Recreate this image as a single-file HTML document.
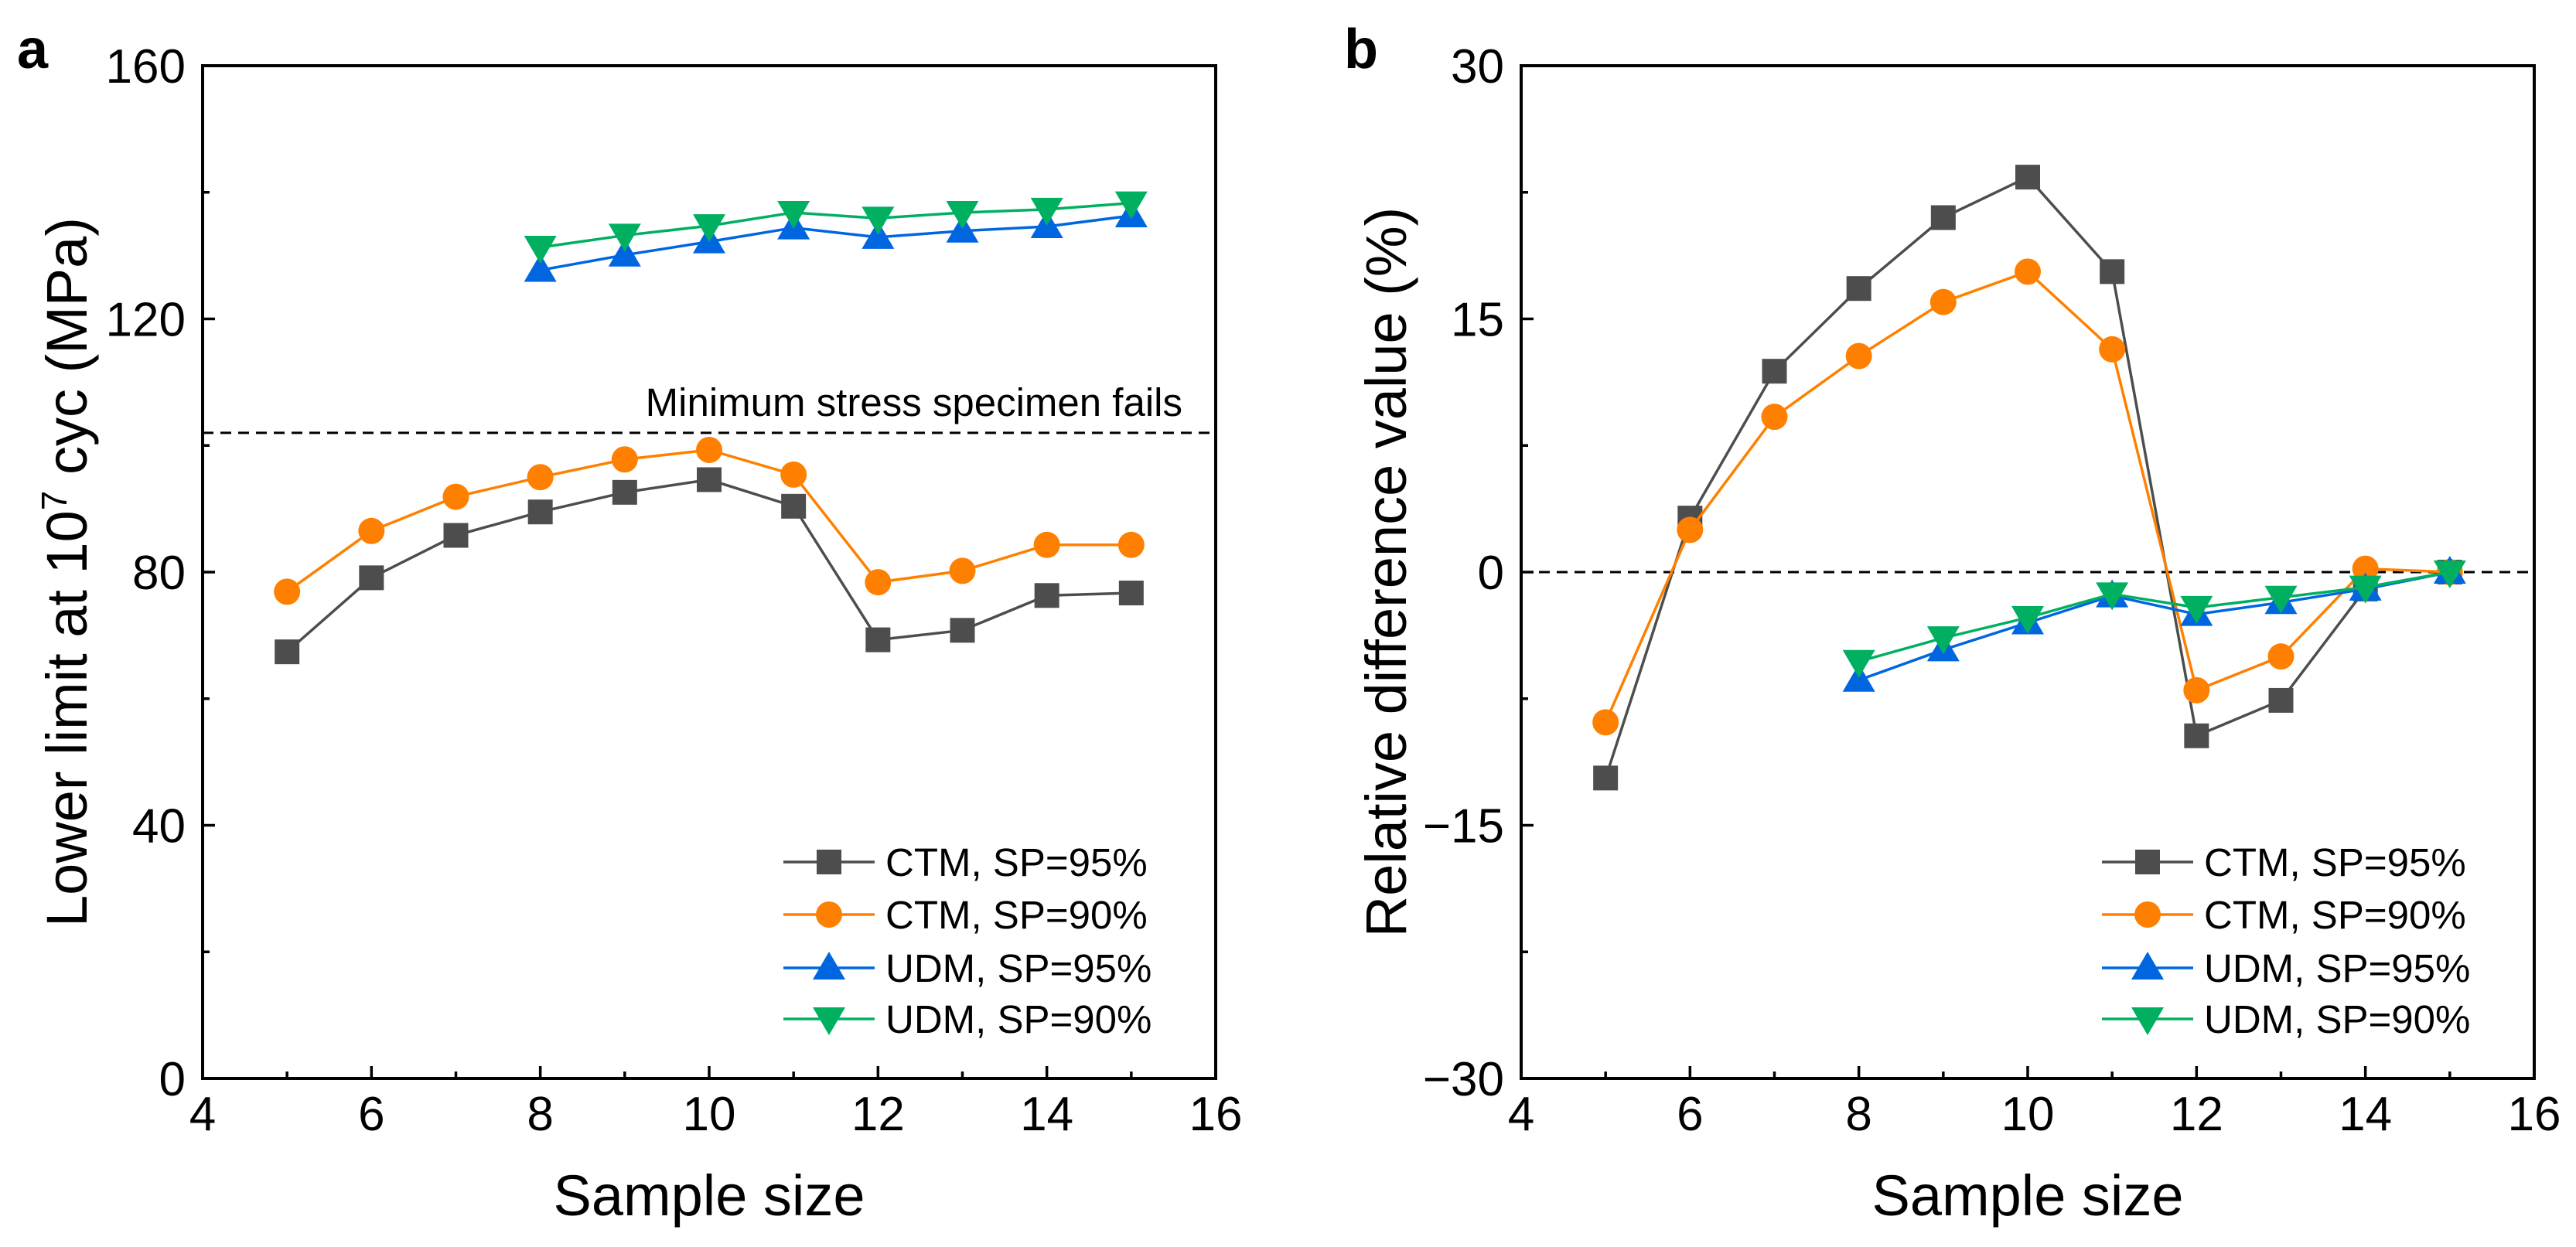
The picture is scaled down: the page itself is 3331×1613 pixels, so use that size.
<!DOCTYPE html>
<html><head><meta charset="utf-8"><style>
html,body{margin:0;padding:0;background:#fff;}
svg{display:block;font-family:"Liberation Sans",Arial,sans-serif;}
</style></head><body>
<svg id="fig" width="3331" height="1613" viewBox="0 0 3331 1613" xmlns="http://www.w3.org/2000/svg">
<g id="pa"></g>
<g id="pb"></g>
</svg>
<script>
const xs = [5,6,7,8,9,10,11,12,13,14,15];
const xsU = [8,9,10,11,12,13,14,15];
const a_ctm95 = [67.4,79.1,85.8,89.5,92.6,94.6,90.4,69.3,70.8,76.3,76.7];
const a_ctm90 = [76.9,86.5,91.9,95.0,97.8,99.3,95.4,78.4,80.2,84.3,84.3];
const a_udm95 = [127.7,130.1,132.2,134.4,132.9,133.9,134.6,136.3];
const a_udm90 = [131.3,133.2,134.7,136.8,135.9,136.8,137.3,138.3];
const a_refLine = 102.0;
const b_ctm95 = [-12.2,3.2,11.9,16.8,21.0,23.4,17.8,-9.7,-7.6,-1.0,0];
const b_ctm90 = [-8.9,2.5,9.2,12.8,16.0,17.8,13.2,-7.0,-5.0,0.2,0];
const b_udm95 = [-6.4,-4.6,-3.0,-1.4,-2.5,-1.8,-1.0,0];
const b_udm90 = [-5.3,-3.9,-2.7,-1.3,-2.1,-1.5,-0.9,0];
const b_refLine = 0;
const xTicks = [4,6,8,10,12,14,16];
const aYTicks = [0,40,80,120,160];
const bYTicks = [-30,-15,0,15,30];
const aYLabels = ["0","40","80","120","160"];
const bYLabels = ["\u221230","\u221215","0","15","30"];
const legendLabels = ["CTM, SP=95%","CTM, SP=90%","UDM, SP=95%","UDM, SP=90%"];

const NS="http://www.w3.org/2000/svg";
const COLORS=["#4d4d4d","#ff8000","#0066e0","#00b060"];
const SHAPES=["square","circle","up","down"];
function mk(parent,tag,attrs,text){const e=document.createElementNS(NS,tag);for(const k in attrs)e.setAttribute(k,attrs[k]);if(text!==undefined)e.textContent=text;parent.appendChild(e);return e;}
function marker(g,shape,cx,cy,color){
  let e;
  if(shape==="square") e=mk(g,"rect",{x:cx-16,y:cy-16,width:32,height:32,fill:color});
  else if(shape==="circle") e=mk(g,"circle",{cx:cx,cy:cy,r:17,fill:color});
  else if(shape==="up") e=mk(g,"polygon",{points:`${cx},${cy-21} ${cx-21},${cy+15} ${cx+21},${cy+15}`,fill:color});
  else e=mk(g,"polygon",{points:`${cx},${cy+21} ${cx-21},${cy-15} ${cx+21},${cy-15}`,fill:color});
  return e;
}
function panel(gid,L,ymin,ymax,yTicks,yLabels,series,ref,letter,ytitle,letterX,ytitleX,legX,note){
  const g=document.getElementById(gid);
  const T=85,B=1395,R=L+1310;
  const X=v=>L+(v-4)/12*(R-L);
  const Y=v=>B-(v-ymin)/(ymax-ymin)*(B-T);
  // ref line
  const rl=mk(g,"line",{x1:L,x2:R,y1:Y(ref),y2:Y(ref),stroke:"#000","stroke-width":3,"stroke-dasharray":"14,9"});
  
  
  if(note){const t=mk(g,"text",{x:R-43,y:Y(ref)-22,"text-anchor":"end","font-size":51},note);
    
    }
  // series
  series.forEach((s,i)=>{
    const sg=mk(g,"g",{});
    
    
    const pts=s.x.map((xv,j)=>X(xv)+","+Y(s.y[j])).join(" ");
    mk(sg,"polyline",{points:pts,fill:"none",stroke:COLORS[i],"stroke-width":3.5});
    s.x.forEach((xv,j)=>{const m=marker(sg,SHAPES[i],X(xv),Y(s.y[j]),COLORS[i]);
      
      });
  });
  // frame
  const fr=mk(g,"rect",{x:L,y:T,width:R-L,height:B-T,fill:"none",stroke:"#000","stroke-width":4});
  
  
  // x ticks
  for(let v=4;v<=16;v++){
    const major=v%2===0;
    mk(g,"line",{x1:X(v),x2:X(v),y1:B,y2:B-(major?16:9),stroke:"#000","stroke-width":3.5});
  }
  xTicks.forEach(v=>{const t=mk(g,"text",{x:X(v),y:1462,"text-anchor":"middle","font-size":62},String(v));
    
    });
  yTicks.forEach((v,i)=>{
    mk(g,"line",{x1:L,x2:L+16,y1:Y(v),y2:Y(v),stroke:"#000","stroke-width":3.5});
    const t=mk(g,"text",{x:L-22,y:Y(v)+22,"text-anchor":"end","font-size":62},yLabels[i]);
    
    
  });
  for(let k=0;k<yTicks.length-1;k++){const m=(yTicks[k]+yTicks[k+1])/2;
    mk(g,"line",{x1:L,x2:L+9,y1:Y(m),y2:Y(m),stroke:"#000","stroke-width":3.5});}
  const xt=mk(g,"text",{x:(L+R)/2,y:1572,"text-anchor":"middle","font-size":74},"Sample size");
  
  
  const yt=mk(g,"text",{x:ytitleX,y:(T+B)/2,"text-anchor":"middle","font-size":74,transform:`rotate(-90 ${ytitleX} ${(T+B)/2})`});
  yt.innerHTML=ytitle;
  
  
  const lt=mk(g,"text",{x:letterX,y:88,"font-size":72,"font-weight":"bold"},letter);
  
  
  // legend
  const rows=[1115,1183,1252,1318];
  const lg=mk(g,"g",{});
  
  
  legendLabels.forEach((lab,i)=>{
    const e=mk(lg,"g",{});
    
    
    mk(e,"line",{x1:legX,x2:legX+118,y1:rows[i],y2:rows[i],stroke:COLORS[i],"stroke-width":3.5});
    marker(e,SHAPES[i],legX+59,rows[i],COLORS[i]);
    mk(e,"text",{x:legX+132,y:rows[i]+18,"font-size":51},lab);
  });
}
panel("pa",262,0,160,aYTicks,aYLabels,[
  {x:xs,y:a_ctm95},{x:xs,y:a_ctm90},{x:xsU,y:a_udm95},{x:xsU,y:a_udm90}],
  a_refLine,"a",'Lower limit at 10<tspan baseline-shift="super" font-size="46">7</tspan> cyc (MPa)',22,112,1013,"Minimum stress specimen fails");
panel("pb",1967,-30,30,bYTicks,bYLabels,[
  {x:xs,y:b_ctm95},{x:xs,y:b_ctm90},{x:xsU,y:b_udm95},{x:xsU,y:b_udm90}],
  b_refLine,"b","Relative difference value (%)",1738,1818,2718,null);
</script>
</body></html>
